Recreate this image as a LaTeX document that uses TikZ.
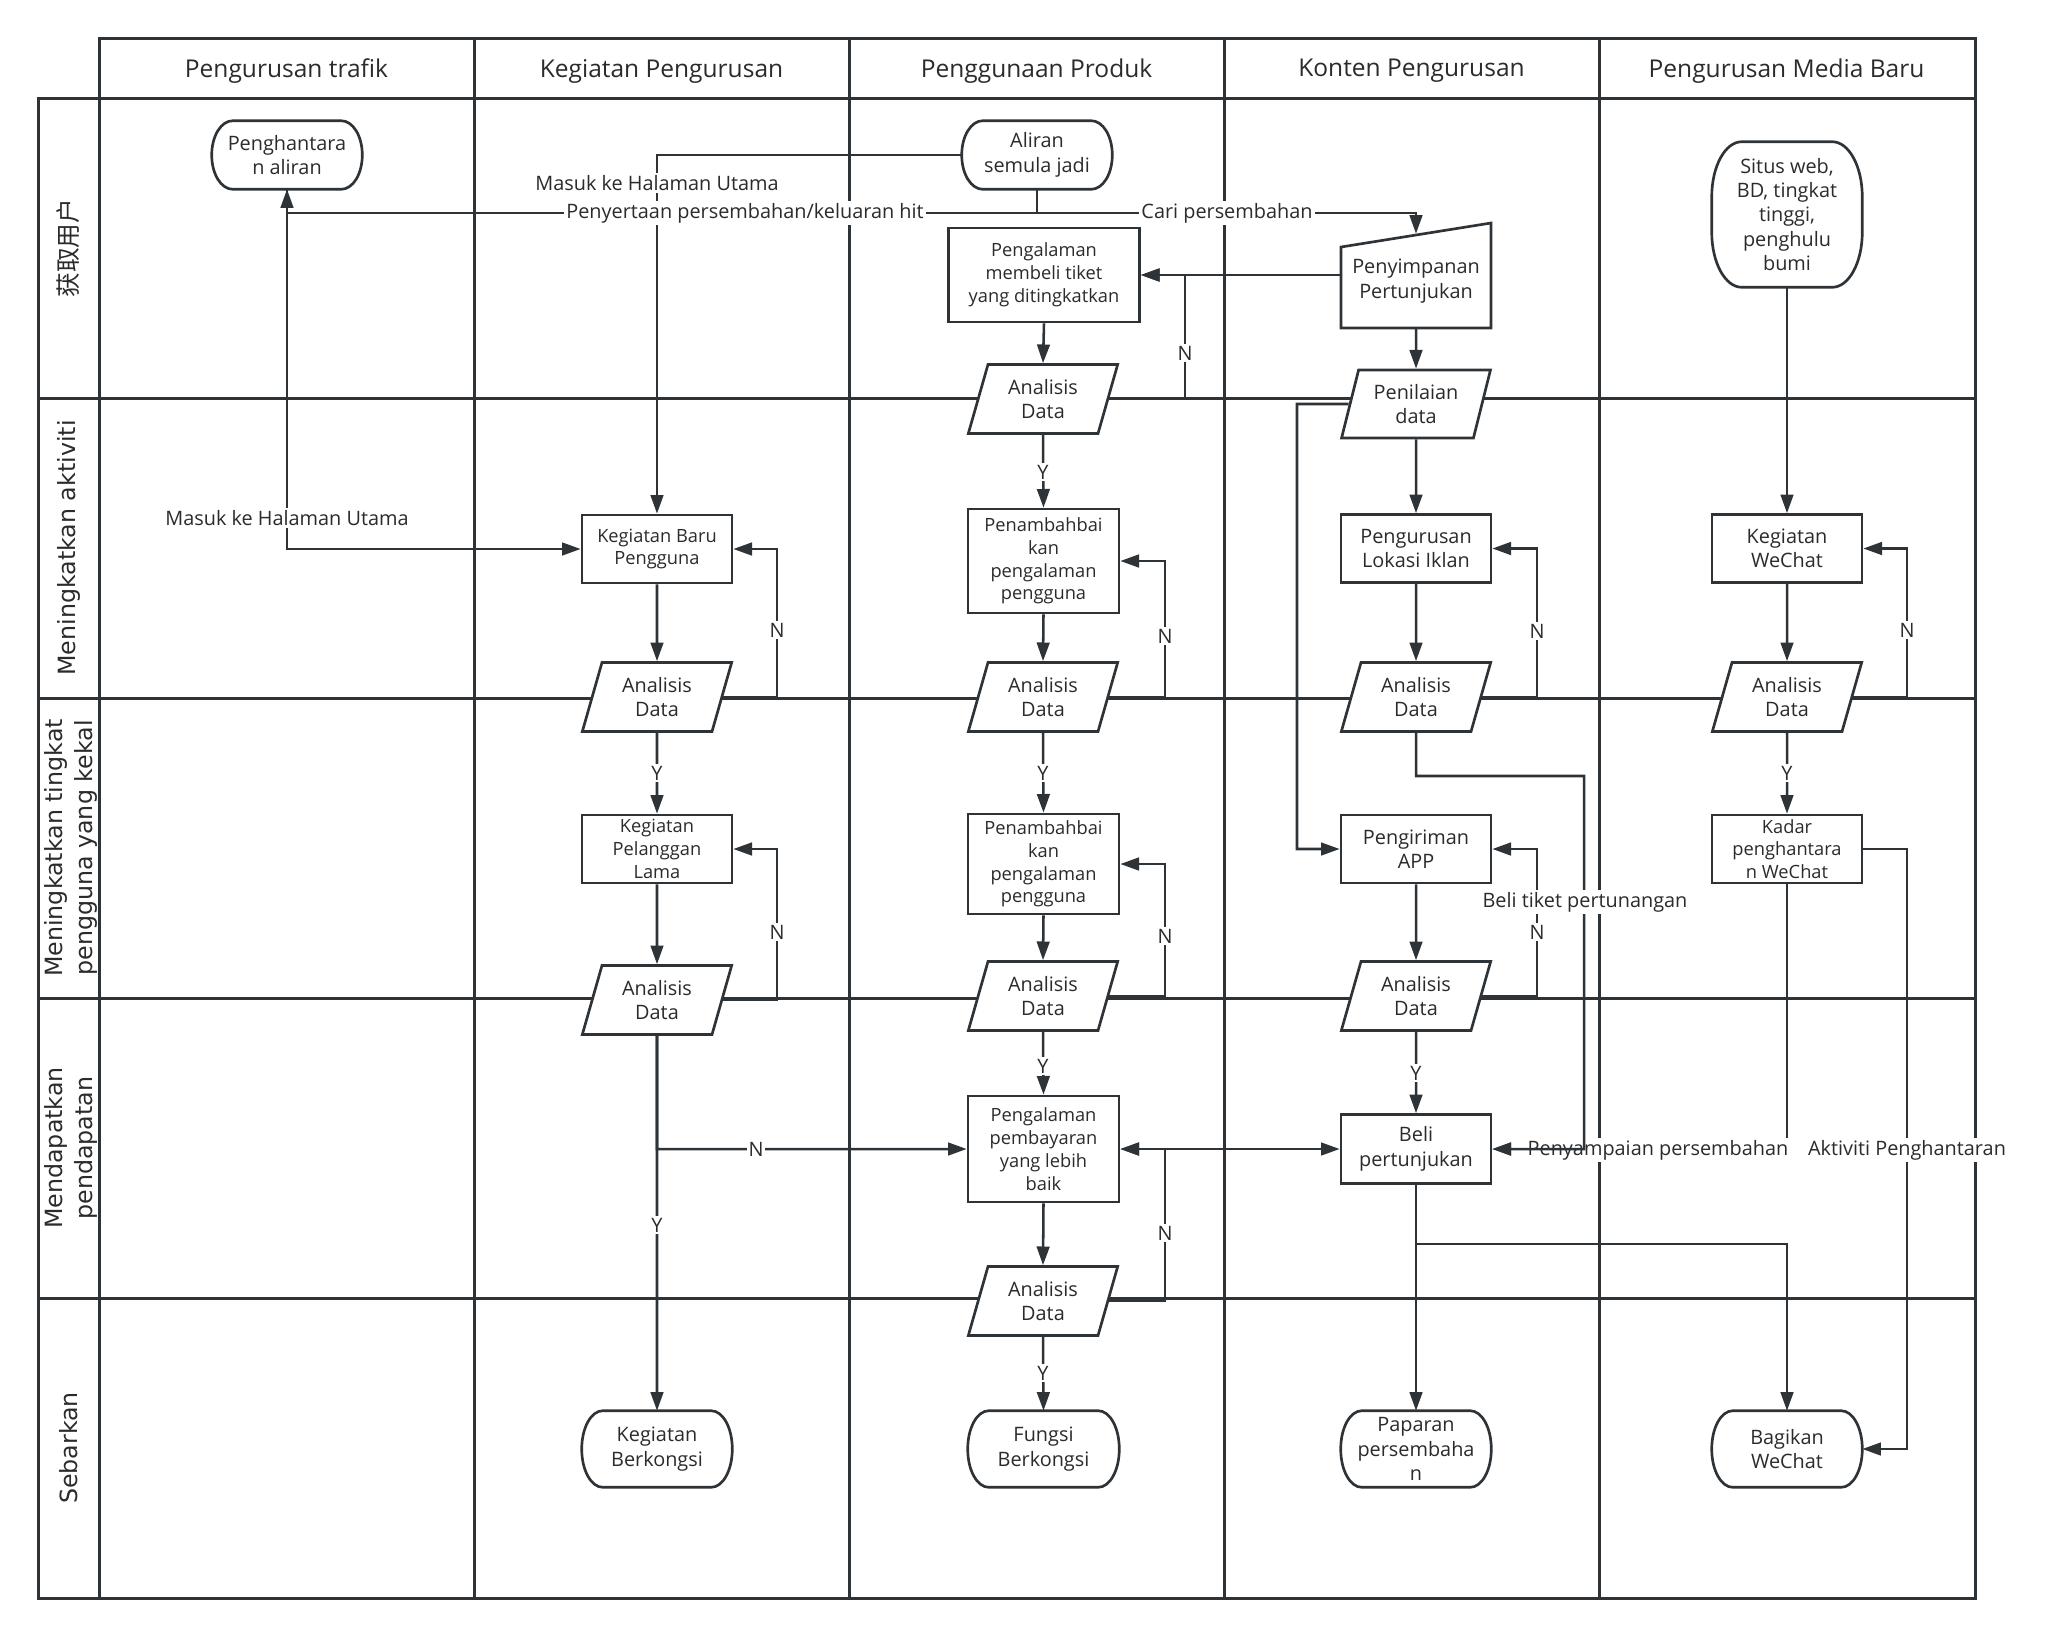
\documentclass[tikz,border=0pt]{standalone}
\usepackage{fontspec}
\setmainfont{Open Sans}
\newfontfamily\lanefont{DejaVu Sans}
\newfontfamily\cjkfont{Noto Sans CJK SC}
\usetikzlibrary{shapes.geometric,arrows.meta,calc}
\definecolor{ln}{HTML}{2E3338}
\definecolor{tx}{HTML}{2B2B2B}
\def\pxu{0.75pt}
\newcommand\fnorm{\fontsize{14.9pt}{18.3pt}\selectfont}
\newcommand\fsmall{\fontsize{13.7pt}{17.1pt}\selectfont}
\newcommand\fhead{\fontsize{18.4pt}{22pt}\selectfont}
\newcommand\flane{\lanefont\fontsize{17.8pt}{22.5pt}\selectfont}
\newcommand\termout[3]{%
  \draw[shp] let \p1=(#1.north west), \p2=(#1.south east) in
   ({\x1+#2},\y1) -- ({\x2-#2},\y1)
   .. controls ({\x2-0.4477*#2},\y1) and (\x2,{\y1-0.4477*#3}) .. (\x2,{\y1-#3})
   -- (\x2,{\y2+#3})
   .. controls (\x2,{\y2+0.4477*#3}) and ({\x2-0.4477*#2},\y2) .. ({\x2-#2},\y2)
   -- ({\x1+#2},\y2)
   .. controls ({\x1+0.4477*#2},\y2) and (\x1,{\y2+0.4477*#3}) .. (\x1,{\y2+#3})
   -- (\x1,{\y1-#3})
   .. controls (\x1,{\y1-0.4477*#3}) and ({\x1+0.4477*#2},\y1) .. ({\x1+#2},\y1) -- cycle;}
\tikzset{
 lane/.style={draw=ln, line width=2.25pt},
 shp/.style={draw=ln, line width=2pt},
 base/.style={text=tx, font=\fnorm, align=center, inner sep=1pt},
 proc/.style={base, rectangle, shp, fill=white, minimum width=150*\pxu, minimum height=68*\pxu},
 term/.style={base, rectangle, minimum width=150*\pxu, minimum height=68*\pxu},
 adata/.style={base, trapezium, trapezium left angle=73, trapezium right angle=107,
   trapezium stretches=true, shp, fill=white, minimum width=150*\pxu, minimum height=69*\pxu},
 con/.style={draw=ln, line width=1.9pt, -{Triangle[length=14pt,width=9.5pt]}},
 con2/.style={draw=ln, line width=1.9pt, {Triangle[length=14pt,width=9.5pt]}-{Triangle[length=14pt,width=9.5pt]}},
 lbl/.style={base, fill=white, inner sep=1.5pt},
 hd/.style={text=tx, font=\fhead},
 lanelbl/.style={text=tx, font=\flane, rotate=90, align=center},
}
\begin{document}
\begin{tikzpicture}[x=0.75pt,y=-0.75pt]
\useasboundingbox (0,0) rectangle (2045,1636);
% ---------- lanes ----------
\draw[lane] (99,38) rectangle (1975,1598);
\draw[lane] (38,98) rectangle (99,1598);
\foreach \yy in {98,398,698,998,1298} \draw[lane] (38,\yy) -- (1975,\yy);
\foreach \xx in {474,849,1224,1599} \draw[lane] (\xx,38) -- (\xx,1598);
\node[hd] (h1) at (286.5,71) {Pengurusan trafik};
\node[hd] (h2) at (661.5,71) {Kegiatan Pengurusan};
\node[hd] (h3) at (1036.5,71) {Penggunaan Produk};
\node[hd] (h4) at (1411.5,71) {Konten Pengurusan};
\node[hd] (h5) at (1786.5,71) {Pengurusan Media Baru};
\node[lanelbl, font=\cjkfont\fontsize{18.5pt}{22pt}\selectfont] (r1) at (68.5,248) {获取用户};
\node[lanelbl] (r2) at (68.5,548) {Meningkatkan aktiviti};
\node[lanelbl] (r3) at (71,848) {Meningkatkan tingkat\\pengguna yang kekal};
\node[lanelbl] (r4) at (71,1148) {Mendapatkan\\pendapatan};
\node[lanelbl] (r5) at (68.5,1448) {Sebarkan};
% ---------- nodes ----------
% column 1
\node[term] (pa) at (287,155) {Penghantara\\n aliran};
% column 2
\node[proc, font=\fsmall] (kbp) at (657,549) {Kegiatan Baru\\Pengguna};
\node[adata] (adk1) at (657,697) {Analisis\\Data};
\node[proc, font=\fsmall] (kpl) at (657,849) {Kegiatan\\Pelanggan\\Lama};
\node[adata] (adk2) at (657,1000) {Analisis\\Data};
\node[term, minimum height=76*\pxu] (kb) at (657,1449) {Kegiatan\\Berkongsi};
% column 3
\node[term] (asj) at (1037,155) {Aliran\\semula jadi};
\node[proc, font=\fsmall, minimum width=191*\pxu, minimum height=94*\pxu] (pmt) at (1044,275) {Pengalaman\\membeli tiket\\yang ditingkatkan};
\node[adata] (adp1) at (1043,399) {Analisis\\Data};
\node[proc, font=\fsmall, minimum width=151*\pxu, minimum height=104*\pxu] (pp1) at (1043.5,561) {Penambahbai\\kan\\pengalaman\\pengguna};
\node[adata] (adp2) at (1043,697) {Analisis\\Data};
\node[proc, font=\fsmall, minimum width=151*\pxu, minimum height=100*\pxu] (pp2) at (1043.5,864) {Penambahbai\\kan\\pengalaman\\pengguna};
\node[adata] (adp3) at (1043,996) {Analisis\\Data};
\node[proc, font=\fsmall, minimum width=151*\pxu, minimum height=106*\pxu] (ppb) at (1043.5,1149) {Pengalaman\\pembayaran\\yang lebih\\baik};
\node[adata] (adp4) at (1043,1301) {Analisis\\Data};
\node[term, minimum width=151*\pxu, minimum height=76*\pxu] (fb) at (1043.5,1449) {Fungsi\\Berkongsi};
% column 4
\draw[shp] (1341,247) -- (1491,223) -- (1491,328) -- (1341,328) -- cycle;
\node[term, minimum height=94*\pxu] (pst) at (1416,281) {Penyimpanan\\Pertunjukan};
\node[adata, minimum height=68*\pxu] (pd) at (1416,404) {Penilaian\\data};
\node[proc] (pli) at (1416,548.5) {Pengurusan\\Lokasi Iklan};
\node[adata] (adc1) at (1416,697) {Analisis\\Data};
\node[proc] (papp) at (1416,849) {Pengiriman\\APP};
\node[adata] (adc2) at (1416,996) {Analisis\\Data};
\node[proc, minimum height=69*\pxu] (bp) at (1416,1149) {Beli\\pertunjukan};
\node[term, minimum height=76*\pxu] (pps) at (1416,1449) {Paparan\\persembaha\\n};
% column 5
\node[term, minimum height=145*\pxu] (sw) at (1787,214.5) {Situs web,\\BD, tingkat\\tinggi,\\penghulu\\bumi};
\node[proc] (kw) at (1787,548.5) {Kegiatan\\WeChat};
\node[adata] (adw) at (1787,697) {Analisis\\Data};
\node[proc, font=\fsmall] (kpw) at (1787,849) {Kadar\\penghantara\\n WeChat};
\node[term, minimum height=76*\pxu] (bw) at (1787,1449) {Bagikan\\WeChat};
% terminator outlines
\termout{pa}{21*\pxu}{34*\pxu}
\termout{asj}{21*\pxu}{34*\pxu}
\termout{kb}{21*\pxu}{38*\pxu}
\termout{fb}{21*\pxu}{38*\pxu}
\termout{pps}{21*\pxu}{38*\pxu}
\termout{bw}{21*\pxu}{38*\pxu}
\termout{sw}{30*\pxu}{55*\pxu}
% ---------- connectors ----------
% top row
\draw[con] (asj.west) -| (kbp.north);
\draw[con] (asj.south) -- (1037,213) -| (pa.south);
\draw[con] (asj.south) -- (1037,213) -| (pst.north);
\draw[con] (pst.west |- pmt.east) -- (pmt.east);
\draw[con] (pmt.south) -- (adp1.north);
\draw[con] (adp1.east) -| (1185,275) -- (pmt.east);
% column 3
\draw[con] (adp1.south) -- (pp1.north);
\draw[con] (pp1.south) -- (adp2.north);
\draw[con] (adp2.east) -| (1165,561) -- (pp1.east);
\draw[con] (adp2.south) -- (pp2.north);
\draw[con] (pp2.south) -- (adp3.north);
\draw[con] (adp3.east) -| (1165,864) -- (pp2.east);
\draw[con] (adp3.south) -- (ppb.north);
\draw[con] (ppb.south) -- (adp4.north);
\draw[con] (adp4.east) -| (1165,1149) -- (ppb.east);
\draw[con] (adp4.south) -- (fb.north);
\draw[con2] (ppb.east) -- (bp.west);
% column 2
\draw[con] (pa.south) |- (kbp.west);
\draw[con] (kbp.south) -- (adk1.north);
\draw[con] (adk1.east) -| (777,549) -- (kbp.east);
\draw[con] (adk1.south) -- (kpl.north);
\draw[con] (kpl.south) -- (adk2.north);
\draw[con] (adk2.east) -| (777,849) -- (kpl.east);
\draw[con] (adk2.south) -- (657,1149) -- (ppb.west);
\draw[con] (adk2.south) -- (kb.north);
% column 4
\draw[con] (pst.south) -- (pd.north);
\draw[con] (pd.west) -- (1297,404) |- (papp.west);
\draw[con] (pd.south) -- (pli.north);
\draw[con] (pli.south) -- (adc1.north);
\draw[con] (adc1.east) -| (1537,548.5) -- (pli.east);
\draw[con] (papp.south) -- (adc2.north);
\draw[con] (adc2.east) -| (1537,849) -- (papp.east);
\draw[con] (adc2.south) -- (bp.north);
\draw[con] (bp.south) -- (pps.north);
\draw[con] (bp.south) -- (1416,1244) -| (bw.north);
% column 5
\draw[con] (sw.south) -- (kw.north);
\draw[con] (kw.south) -- (adw.north);
\draw[con] (adw.east) -| (1907,548.5) -- (kw.east);
\draw[con] (adw.south) -- (kpw.north);
\draw[con] (kpw.east) -| (1907,1449) -- (bw.east);
\draw[con] (kpw.south) |- (bp.east);
% ---------- labels ----------
\node[lbl] (l1) at (657,183) {Masuk ke Halaman Utama};
\node[lbl] (l2) at (745,213) {Penyertaan persembahan/keluaran hit};
\node[lbl] (l3) at (1227,213) {Cari persembahan};
\node[lbl] (l4) at (1185,353) {N};
\node[lbl] (l5) at (1043,472) {Y};
\node[lbl] (l6) at (1165,636) {N};
\node[lbl] (l7) at (1043,773) {Y};
\node[lbl] (l8) at (1165,936) {N};
\node[lbl] (l9) at (1043,1066) {Y};
\node[lbl] (l10) at (1165,1233) {N};
\node[lbl] (l11) at (1043,1373) {Y};
\node[lbl] (l12) at (287,518) {Masuk ke Halaman Utama};
\node[lbl] (l13) at (777,630) {N};
\node[lbl] (l14) at (657,773) {Y};
\node[lbl] (l15) at (777,932) {N};
\node[lbl] (l16) at (756,1149) {N};
\node[lbl] (l17) at (657,1225) {Y};
\node[lbl] (l18) at (1537,631) {N};
\node[lbl] (l19) at (1537,932) {N};
\node[lbl] (l20) at (1416,1073) {Y};
\node[lbl] (l21) at (1907,630) {N};
\node[lbl] (l22) at (1787,773) {Y};
\node[lbl] (l23) at (1907,1150) {Aktiviti Penghantaran};
\node[lbl] (l24) at (1658,1150) {Penyampaian persembahan};
% drawn last: passes over the label above
\draw[con] (adc1.south) -- (1416,776) -| (1584,1149) -- (bp.east);
\node[lbl] (l25) at (1585,902) {Beli tiket pertunangan};
\end{tikzpicture}
\end{document}
